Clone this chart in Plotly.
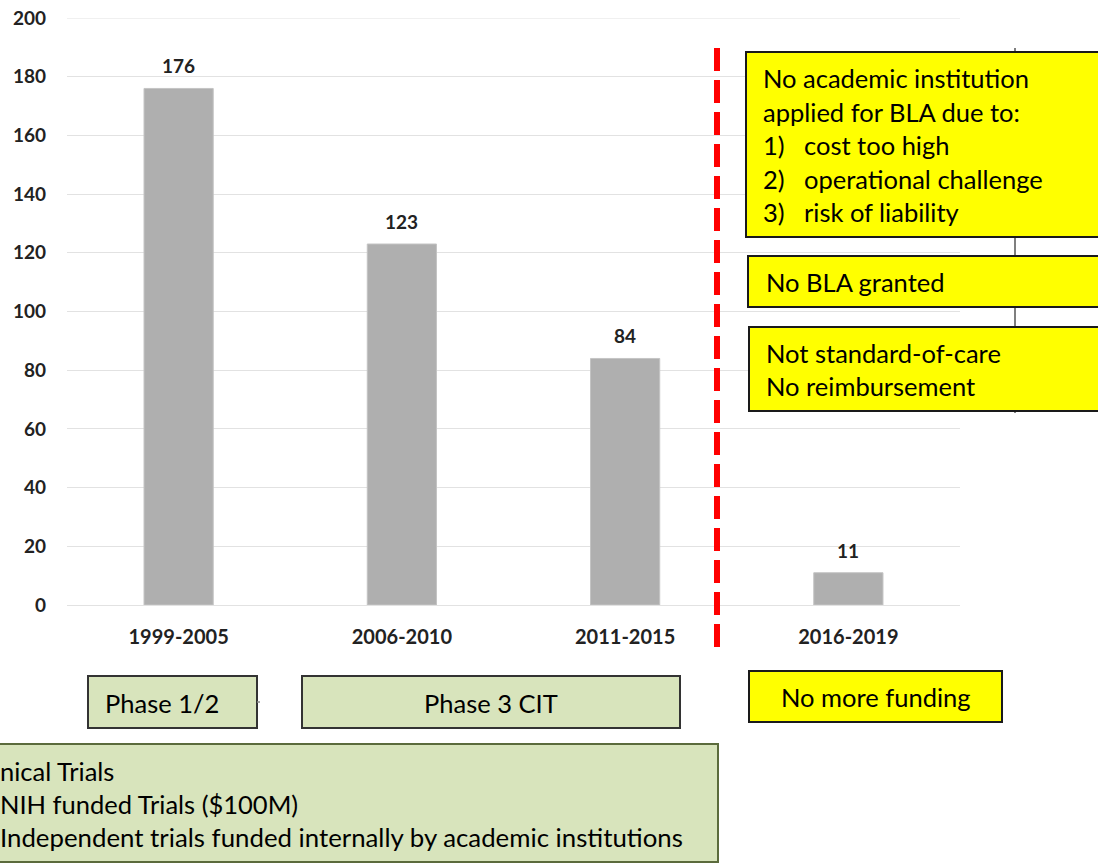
import plotly.graph_objects as go

# ---- data ----
periods = ["1999-2005", "2006-2010", "2011-2015", "2016-2019"]
trials = [176, 123, 84, 11]
y_ticks = [0, 20, 40, 60, 80, 100, 120, 140, 160, 180, 200]

box1_lines = ["No academic institution", "applied for BLA due to:"]
box1_items = [("1)", "cost too high"), ("2)", "operational challenge"), ("3)", "risk of liability")]
box2_text = "No BLA granted"
box3_lines = ["Not standard-of-care", "No reimbursement"]
funding_text = "No more funding"
phase_texts = ["Phase 1/2", "Phase 3 CIT"]
bottom_lines = ["nical Trials", "NIH funded Trials ($100M)", "Independent trials funded internally by academic institutions"]

W, H = 1098, 863
L, R, T, B = 67, 960, 18, 605
FONT = "Lato"
TS = 25.5
GRID = "#e2e2e2"


def px(x):
    return (x - L) / (R - L)


def py(y):
    return (B - y) / (B - T)


fig = go.Figure()
fig.add_trace(go.Bar(x=periods, y=trials, marker=dict(color="#afafaf", line=dict(color="#c4c4c4", width=1)),
                     hoverinfo="x+y"))

shapes = []
annotations = []

# top gridline (at the top tick value, on the plot edge)
shapes.append(dict(type="line", xref="paper", yref="y", x0=0, x1=1, y0=y_ticks[-1], y1=y_ticks[-1],
                   line=dict(color=GRID, width=1), layer="below"))

# bar value labels
for p, v in zip(periods, trials):
    annotations.append(dict(x=p, y=v, xref="x", yref="y", text=str(v), showarrow=False,
                            yanchor="bottom", yshift=9,
                            font=dict(family=FONT, size=19, color="#222", weight="bold")))

# red dashed divider
shapes.append(dict(type="line", xref="paper", yref="paper", x0=px(717), x1=px(717), y0=py(48), y1=py(650),
                   line=dict(color="#ff0000", width=6, dash="23px,9px"), layer="above"))

# gray connector line
shapes.append(dict(type="line", xref="paper", yref="paper", x0=px(1015), x1=px(1015), y0=py(48), y1=py(413),
                   line=dict(color="#555555", width=1.5), layer="above"))


def box(x0, y0, x1, y1, fill, border, width=2):
    shapes.append(dict(type="rect", xref="paper", yref="paper", x0=px(x0), x1=px(x1), y0=py(y1), y1=py(y0),
                       fillcolor=fill, line=dict(color=border, width=width), layer="above"))


def text(x, y, t, size=TS, anchor="left"):
    if anchor == "left":
        x -= 3
    annotations.append(dict(x=px(x), y=py(y), xref="paper", yref="paper", text=t, showarrow=False,
                            xanchor=anchor, yanchor="middle", font=dict(family=FONT, size=size, color="#000")))


YEL = "#ffff00"
GRN = "#d8e4bc"

box(746, 52, 1110, 237, YEL, "#1a1a1a")
box(748, 256, 1110, 307, YEL, "#1a1a1a")
box(749, 327, 1110, 411, YEL, "#1a1a1a")
box(749, 671, 1002, 722, YEL, "#1a1a1a")
box(88, 676, 257, 728, GRN, "#333333")
box(302, 676, 680, 728, GRN, "#333333")
box(-10, 744, 718, 862, GRN, "#5b6b3c")
# small connector stub right of the Phase 1/2 box
shapes.append(dict(type="line", xref="paper", yref="paper", x0=px(257), x1=px(260), y0=py(702), y1=py(702),
                   line=dict(color="#888888", width=1.5), layer="above"))

text(764, 78, box1_lines[0])
text(764, 112, box1_lines[1])
for i, (n, t) in enumerate(box1_items):
    yy = 145 + i * 33.5
    text(764, yy, n)
    text(805, yy, t)
text(767, 282, box2_text)
text(767, 353, box3_lines[0])
text(767, 386, box3_lines[1])
text(876, 697, funding_text, anchor="center")
text(162, 703, phase_texts[0], anchor="center")
text(491, 703, phase_texts[1], anchor="center")
for i, t in enumerate(bottom_lines):
    text(1, 771 + i * 33, t, size=TS if i < 2 else 25.8)

fig.update_layout(
    width=W, height=H,
    margin=dict(l=L, r=W - R, t=T, b=H - B, pad=0, autoexpand=False),
    paper_bgcolor="white", plot_bgcolor="white",
    bargap=0.69,
    showlegend=False,
    shapes=shapes,
    annotations=annotations,
    xaxis=dict(showgrid=False, showline=False, zeroline=False, ticks="", automargin=False,
               tickfont=dict(family=FONT, size=20, color="#222", weight="bold"),
               ticklabelstandoff=18),
    yaxis=dict(range=[0, 200], tickvals=y_ticks, showgrid=True, gridcolor=GRID, gridwidth=1,
               zeroline=True, zerolinecolor=GRID, zerolinewidth=1, showline=False, ticks="",
               automargin=False, ticklabeloverflow="allow",
               tickfont=dict(family=FONT, size=19, color="#222", weight="bold"),
               ticklabelstandoff=20),
)

fig.write_html("out.html", config={"displayModeBar": False},
               post_script="document.body.style.margin='0';document.body.style.overflow='hidden';")
